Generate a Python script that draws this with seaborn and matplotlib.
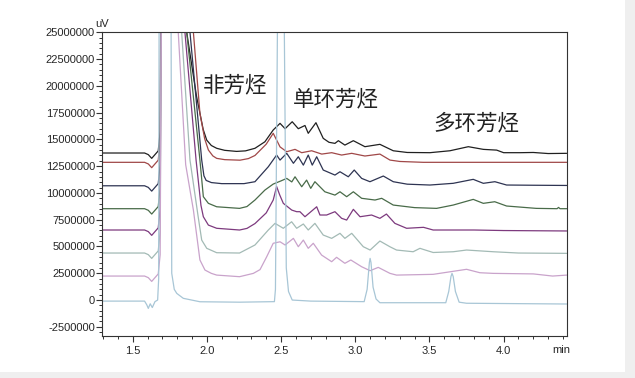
import numpy as np
import pandas as pd
import seaborn as sns
import matplotlib.pyplot as plt
from matplotlib.ticker import MultipleLocator
from matplotlib import transforms
from matplotlib.patches import Rectangle

# --- data (signal in 1e6 uV above each trace's offset) ---
lead_t = [1.29, 1.58, 1.605, 1.628, 1.65, 1.672, 1.685, 1.70]
lead_s = [0.0, 0.0, -0.15, -0.5, -0.15, 0.2, 2.0, 45.0]

black_t = [1.864, 1.93, 1.975, 1.999, 2.03, 2.066, 2.12, 2.2, 2.26, 2.324,
           2.391, 2.447, 2.493, 2.527, 2.575, 2.616, 2.661, 2.683, 2.735, 2.784,
           2.823, 2.863, 2.886, 2.93, 2.987, 3.065, 3.166, 3.256, 3.35, 3.503,
           3.638, 3.762, 3.863, 3.953, 4.0, 4.11, 4.2, 4.3, 4.425]
black_s = [11.27, 5.3, 2.2, 1.2, 0.7, 0.44, 0.25, 0.15, 0.2, 0.44,
           1.05, 2.15, 2.77, 2.27, 2.92, 2.27, 2.57, 1.84, 2.83, 1.37,
           1.0, 0.9, 1.15, 0.74, 1.15, 0.59, 0.81, 0.21, 0.05, 0.03,
           0.21, 0.59, 0.34, 0.27, 0.03, 0.03, 0.05, -0.05, -0.03]

red_t = [1.909, 1.953, 1.985, 2.01, 2.04, 2.066, 2.12, 2.223, 2.28, 2.324,
         2.40, 2.447, 2.493, 2.538, 2.594, 2.639, 2.706, 2.774, 2.841, 2.908,
         2.976, 3.065, 3.166, 3.234, 3.3, 3.458, 4.425]
red_s = [12.14, 4.57, 2.2, 1.15, 0.6, 0.37, 0.25, 0.2, 0.35, 0.64,
         1.7, 2.71, 1.44, 0.99, 1.21, 0.9, 1.08, 0.77, 0.9, 0.68,
         0.84, 0.59, 0.77, 0.21, 0.08, 0.0, 0.0]

navy_t = [1.886, 1.965, 1.98, 1.995, 2.03, 2.1, 2.25, 2.324, 2.414, 2.47,
          2.493, 2.538, 2.583, 2.616, 2.65, 2.683, 2.71, 2.74, 2.784, 2.863,
          2.897, 2.953, 2.993, 3.043, 3.099, 3.189, 3.256, 3.35, 3.503, 3.66,
          3.795, 3.863, 3.941, 4.02, 4.2, 4.425]
navy_s = [14.33, 2.4, 0.93, 0.5, 0.3, 0.2, 0.2, 0.38, 1.78, 2.87,
          2.4, 3.03, 2.1, 2.71, 1.93, 2.87, 1.93, 2.71, 1.47, 1.0,
          1.31, 0.84, 1.47, 0.69, 0.38, 0.91, 0.38, 0.15, 0.07, 0.23,
          0.6, 0.23, 0.38, 0.07, 0.05, 0.03]

green_t = [1.864, 1.953, 1.976, 2.01, 2.066, 2.22, 2.27, 2.324, 2.391, 2.447,
           2.50, 2.538, 2.572, 2.594, 2.639, 2.672, 2.70, 2.728, 2.795, 2.863,
           2.897, 2.942, 2.987, 3.043, 3.133, 3.178, 3.256, 3.40, 3.548, 3.66,
           3.795, 3.863, 3.94, 4.02, 4.22, 4.36, 4.37, 4.38, 4.425]
green_s = [16.47, 4.54, 1.12, 0.5, 0.18, 0.03, 0.2, 0.81, 1.74, 2.3,
           2.6, 2.83, 2.5, 2.98, 2.05, 2.67, 1.9, 2.52, 1.58, 1.27,
           1.58, 1.12, 1.58, 0.97, 0.81, 0.97, 0.34, 0.1, 0.03, 0.34,
           0.87, 0.5, 0.65, 0.25, 0.03, 0.0, 0.12, 0.0, 0.0]

purple_t = [1.852, 1.927, 1.96, 1.976, 2.01, 2.066, 2.22, 2.27, 2.324, 2.40,
            2.447, 2.47, 2.49, 2.515, 2.572, 2.605, 2.627, 2.661, 2.74, 2.762,
            2.807, 2.863, 2.908, 2.942, 2.987, 3.032, 3.11, 3.166, 3.21, 3.267,
            3.346, 3.46, 3.525, 3.8, 4.0, 4.425]
purple_s = [18.46, 6.53, 2.3, 1.24, 0.46, 0.16, 0.0, 0.15, 0.6, 1.6,
            2.8, 4.06, 3.3, 2.49, 1.86, 1.71, 1.71, 1.24, 2.17, 1.4,
            1.4, 1.71, 1.09, 0.93, 1.93, 1.24, 1.4, 1.09, 1.49, 0.62,
            0.16, 0.25, 0.0, 0.0, -0.05, -0.09]

teal_t = [1.83, 1.886, 1.94, 1.965, 1.999, 2.066, 2.22, 2.324, 2.414, 2.459,
          2.515, 2.571, 2.605, 2.65, 2.683, 2.728, 2.784, 2.841, 2.897, 2.93,
          2.976, 3.054, 3.1, 3.166, 3.233, 3.278, 3.39, 3.436, 3.458, 3.525,
          3.66, 3.75, 3.93, 4.1, 4.425]
teal_s = [20.61, 8.68, 3.5, 1.21, 0.44, 0.03, 0.0, 0.75, 2.15, 2.77,
          2.31, 2.92, 2.31, 2.71, 2.15, 2.77, 1.68, 1.37, 1.84, 1.37,
          1.84, 0.59, 0.28, 1.12, 0.59, 0.28, 0.12, 0.44, 0.34, 0.05,
          0.12, 0.28, 0.12, 0.0, -0.03]

pink_t = [1.807, 1.857, 1.909, 1.953, 1.987, 2.03, 2.066, 2.22, 2.313, 2.358,
          2.403, 2.447, 2.493, 2.527, 2.583, 2.616, 2.65, 2.683, 2.717, 2.773,
          2.841, 2.874, 2.93, 2.97, 3.043, 3.1, 3.155, 3.234, 3.278, 3.525,
          3.75, 3.84, 3.93, 4.2, 4.33, 4.425]
pink_s = [22.76, 10.4, 6.16, 1.5, 0.56, 0.25, 0.09, -0.06, 0.25, 0.6,
          1.8, 3.06, 3.2, 2.9, 3.52, 2.74, 3.36, 2.59, 3.06, 1.96,
          1.34, 1.75, 1.19, 1.5, 0.87, 0.5, 0.81, 0.25, 0.09, 0.16,
          0.63, 0.31, 0.25, 0.2, 0.0, 0.09]

# standard mix trace (no lead-in, own dip and peaks)
blue_t = [1.29, 1.58, 1.595, 1.605, 1.618, 1.632, 1.65, 1.668, 1.675, 1.68,
          1.755, 1.763, 1.78, 1.797, 1.841, 1.953, 2.22, 2.455, 2.462, 2.478,
          2.49, 2.51, 2.519, 2.535, 2.55, 2.575, 2.7, 3.06, 3.08, 3.095,
          3.1, 3.106, 3.12, 3.14, 3.166, 3.61, 3.63, 3.645, 3.652, 3.66,
          3.675, 3.7, 3.75, 4.425]
blue_s = [-0.1, -0.1, -0.45, -0.78, -0.35, -0.7, -0.15, 0.0, 2.0, 45.0,
          45.0, 2.5, 1.0, 0.62, 0.16, -0.16, -0.2, -0.15, 1.0, 30.0,
          40.0, 40.0, 30.0, 3.0, 0.8, 0.0, -0.1, -0.15, 1.0, 3.5,
          3.89, 3.5, 1.2, 0.1, -0.25, -0.25, 0.8, 2.2, 2.49, 2.2,
          0.8, -0.2, -0.3, -0.37]

trace_names = ["black", "red", "navy", "green", "purple", "teal", "pink", "blue"]
trace_offsets = [13.73, 12.86, 10.67, 8.53, 6.54, 4.39, 2.24, 0.0]
trace_colors = ["#202020", "#a04848", "#2e3452", "#496b49",
                "#7d3a7e", "#a3bab5", "#c9a3cb", "#a8c6d6"]

y_tick_values = [-2500000, 0, 2500000, 5000000, 7500000, 10000000, 12500000,
                 15000000, 17500000, 20000000, 22500000, 25000000]
y_tick_labels = ["-2500000", "0", "2500000", "5000000", "7500000", "10000000",
                 "12500000", "15000000", "17500000", "20000000", "22500000",
                 "25000000"]
x_tick_values = [1.5, 2.0, 2.5, 3.0, 3.5, 4.0]
x_tick_labels = ["1.5", "2.0", "2.5", "3.0", "3.5", "4.0"]

labels = ["非芳烃", "单环芳烃", "多环芳烃"]
label_pos = [(2.189, 20.08e6), (2.870, 18.77e6), (3.813, 16.53e6)]

# --- build long table ---
series = {
    "black": (black_t, black_s), "red": (red_t, red_s), "navy": (navy_t, navy_s),
    "green": (green_t, green_s), "purple": (purple_t, purple_s),
    "teal": (teal_t, teal_s), "pink": (pink_t, pink_s),
}
frames = []
for name, off in zip(trace_names, trace_offsets):
    if name == "blue":
        t, s = blue_t, blue_s
    else:
        t = lead_t + series[name][0]
        s = lead_s + series[name][1]
    frames.append(pd.DataFrame({"t": t, "v": (np.array(s) + off) * 1e6, "trace": name}))
df = pd.concat(frames, ignore_index=True)

sns.set_style("ticks")
plt.rcParams['font.family'] = ['Liberation Sans', 'Noto Sans CJK SC']
plt.rcParams['axes.unicode_minus'] = False

fig = plt.figure(figsize=(6.35, 3.78), dpi=100, facecolor="#efefef")
fig.patches.append(Rectangle((0, 6 / 378), 625 / 635, 1, transform=fig.transFigure,
                             facecolor="white", edgecolor="none", zorder=-1))
ax = fig.add_axes([102 / 635, 42.3 / 378, 464.7 / 635, 303.7 / 378])

sns.lineplot(data=df, x="t", y="v", hue="trace", hue_order=trace_names,
             palette=dict(zip(trace_names, trace_colors)), estimator=None,
             sort=False, legend=False, linewidth=0.9, ax=ax)

ax.set_xlim(1.293, 4.425)
ax.set_ylim(-3.33e6, 25.03e6)
ax.set_xticks(x_tick_values, x_tick_labels)
ax.set_yticks(y_tick_values, y_tick_labels)
ax.xaxis.set_minor_locator(MultipleLocator(0.1))
ax.yaxis.set_minor_locator(MultipleLocator(500000))
ax.tick_params(which="major", length=4, width=0.8, labelsize=8, color="#333333")
ax.tick_params(which="minor", length=2, width=0.7, color="#333333")
ax.tick_params(axis="y", pad=1)
ax.set_xlabel("")
ax.set_ylabel("")
for sp in ax.spines.values():
    sp.set_color("#333333")
    sp.set_linewidth(0.8)

trans = transforms.blended_transform_factory(ax.transData, ax.transAxes)
ax.text(4.386, -0.047, "min", transform=trans, fontsize=8, ha="center", va="center")
ax.text(0.0, 1.026, "uV", transform=ax.transAxes, fontsize=8, ha="center", va="center")

for txt, (x, y) in zip(labels, label_pos):
    ax.text(x, y, txt, fontsize=15.5, ha="center", va="center", color="#222222",
            family=["Noto Sans CJK SC", "DejaVu Sans"])

fig.savefig("out.png", dpi=100)
